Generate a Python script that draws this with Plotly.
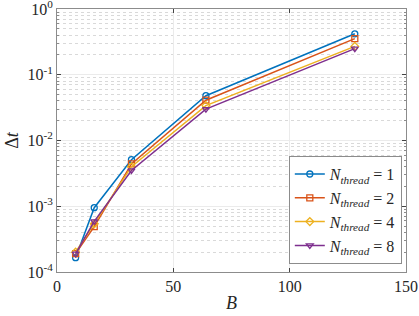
import plotly.graph_objects as go

B = [8, 16, 32, 64, 128]
t1 = [1.65e-4, 9.5e-4, 5.1e-3, 0.048, 0.42]
t2 = [1.9e-4, 4.9e-4, 4.4e-3, 0.041, 0.355]
t4 = [2.0e-4, 5.4e-4, 4.0e-3, 0.034, 0.27]
t8 = [1.9e-4, 5.9e-4, 3.5e-3, 0.030, 0.25]

series = [
    ("1", t1, "#0072BD", "circle-open"),
    ("2", t2, "#D95319", "square-open"),
    ("4", t4, "#EDB120", "diamond-open"),
    ("8", t8, "#7E2F8E", "triangle-down-open"),
]

ytickvals = [1e-4, 1e-3, 1e-2, 1e-1, 1]
yticktext = ["10<sup>-4</sup>", "10<sup>-3</sup>", "10<sup>-2</sup>", "10<sup>-1</sup>", "10<sup>0</sup>"]
yminor = [m * 10 ** e for e in range(-4, 0) for m in range(2, 10)]
xtickvals = [0, 50, 100, 150]

fig = go.Figure()
for n, vals, col, sym in series:
    fig.add_trace(go.Scatter(
        x=B, y=vals, mode="lines+markers",
        name="<i>N</i><sub><i>thread</i></sub> = " + n,
        line=dict(color=col, width=1.5),
        marker=dict(symbol=sym, size=6, color=col, line=dict(width=1.3, color=col)),
    ))

font = "Liberation Serif, Times New Roman, DejaVu Serif, serif"
fig.update_layout(
    width=419, height=316,
    margin=dict(l=57, r=13, t=9, b=44),
    paper_bgcolor="white", plot_bgcolor="white",
    font=dict(family=font, size=15, color="#262626"),
    legend=dict(x=0.988, y=0.03, xanchor="right", yanchor="bottom",
                bgcolor="white", bordercolor="#8c8c8c", borderwidth=1,
                font=dict(size=16, family=font, color="#262626"),
                tracegroupgap=0, itemwidth=30),
    showlegend=True,
)
fig.update_xaxes(
    range=[0, 150], tickvals=xtickvals, ticks="inside", ticklen=4,
    showline=True, linecolor="#8c8c8c", linewidth=1, mirror="ticks",
    showgrid=True, gridcolor="#ebebeb", gridwidth=1, zeroline=False,
    title=dict(text="<i>B</i>", standoff=2, font=dict(size=18, family=font)),
    tickfont=dict(size=16, family=font), ticklabeloverflow="allow",
    automargin=False,
)
fig.update_yaxes(
    type="log", range=[-4.0005, 0.0005], tickvals=ytickvals, ticktext=yticktext,
    ticks="inside", ticklen=4, ticklabeloverflow="allow", automargin=False,
    showline=True, linecolor="#8c8c8c", linewidth=1, mirror="ticks",
    showgrid=True, gridcolor="#ebebeb", gridwidth=1, zeroline=False,
    minor=dict(tickmode="array", tickvals=yminor, ticks="inside", ticklen=2,
               tickcolor="#8c8c8c", showgrid=True,
               gridcolor="#d9d9d9", griddash="dot", gridwidth=1),
    title=dict(text="Δ<i>t</i>", standoff=4, font=dict(size=18, family=font)),
    tickfont=dict(size=16, family=font),
)

fig.write_html("out.html", post_script="document.body.style.margin='0';",
               config={"displayModeBar": False})
